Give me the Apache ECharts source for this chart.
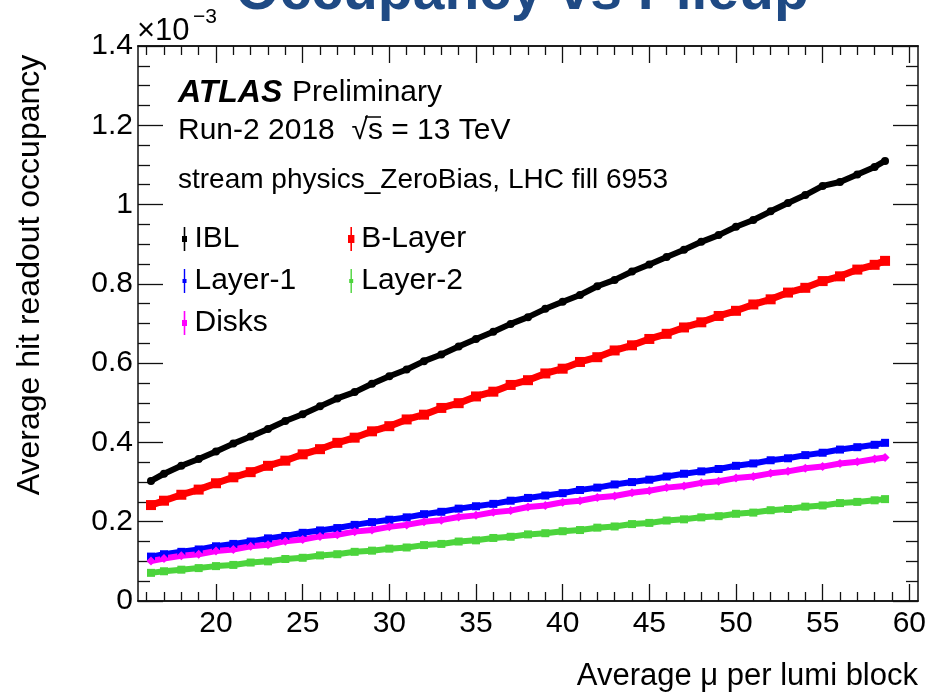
<!DOCTYPE html>
<html>
<head>
<meta charset="utf-8">
<title>Occupancy vs Pileup</title>
<script src="https://cdn.jsdelivr.net/npm/echarts@6/dist/echarts.min.js"></script>
<style>
  html, body { margin: 0; padding: 0; background: #fff; }
  #chart { width: 929px; height: 696px; }
</style>
</head>
<body>
<div id="chart"></div>
<script>
// Average pile-up per lumi block
const mu = [16.25, 17, 18, 19, 20, 21, 22, 23, 24, 25, 26, 27, 28, 29, 30, 31, 32, 33, 34, 35, 36, 37,
  38, 39, 40, 41, 42, 43, 44, 45, 46, 47, 48, 49, 50, 51, 52, 53, 54, 55, 56, 57, 58, 58.6];

// Average hit readout occupancy, in units of 1e-3
const ibl = [0.303, 0.321, 0.341, 0.358, 0.377, 0.397, 0.415, 0.434, 0.454, 0.471, 0.491, 0.511, 0.527, 0.548,
  0.567, 0.584, 0.605, 0.622, 0.642, 0.661, 0.679, 0.699, 0.716, 0.737, 0.755, 0.772, 0.794, 0.810, 0.831, 0.849,
  0.868, 0.886, 0.906, 0.923, 0.944, 0.961, 0.983, 1.004, 1.024, 1.047, 1.057, 1.076, 1.095, 1.110];
const bLayer = [0.242, 0.253, 0.268, 0.281, 0.297, 0.312, 0.325, 0.341, 0.354, 0.370, 0.383, 0.399, 0.412, 0.428,
  0.441, 0.458, 0.470, 0.487, 0.499, 0.516, 0.528, 0.545, 0.557, 0.574, 0.586, 0.603, 0.615, 0.632, 0.645, 0.661,
  0.674, 0.690, 0.703, 0.719, 0.732, 0.748, 0.761, 0.778, 0.790, 0.807, 0.819, 0.836, 0.848, 0.858];
const layer1 = [0.112, 0.118, 0.124, 0.130, 0.138, 0.144, 0.150, 0.158, 0.164, 0.172, 0.178, 0.184, 0.192, 0.199,
  0.205, 0.211, 0.219, 0.225, 0.233, 0.239, 0.245, 0.253, 0.260, 0.266, 0.272, 0.280, 0.286, 0.294, 0.300, 0.306,
  0.314, 0.321, 0.327, 0.333, 0.341, 0.347, 0.355, 0.360, 0.368, 0.374, 0.382, 0.388, 0.394, 0.399];
const layer2 = [0.071, 0.075, 0.079, 0.083, 0.088, 0.091, 0.097, 0.100, 0.106, 0.109, 0.115, 0.118, 0.124, 0.127,
  0.132, 0.135, 0.141, 0.144, 0.150, 0.153, 0.159, 0.162, 0.168, 0.171, 0.176, 0.179, 0.185, 0.188, 0.194, 0.197,
  0.203, 0.206, 0.211, 0.214, 0.220, 0.223, 0.229, 0.232, 0.238, 0.241, 0.247, 0.250, 0.254, 0.257];
const disks = [0.101, 0.107, 0.114, 0.118, 0.126, 0.130, 0.138, 0.142, 0.151, 0.155, 0.163, 0.167, 0.175, 0.179,
  0.187, 0.192, 0.200, 0.204, 0.212, 0.216, 0.224, 0.228, 0.237, 0.241, 0.249, 0.253, 0.261, 0.265, 0.273, 0.278,
  0.286, 0.290, 0.298, 0.302, 0.310, 0.314, 0.322, 0.327, 0.335, 0.339, 0.347, 0.351, 0.358, 0.362];

// Axis ticks
const xMajorTicks = [20, 25, 30, 35, 40, 45, 50, 55, 60];
const xMinorTicks = [16, 17, 18, 19, 21, 22, 23, 24, 26, 27, 28, 29, 31, 32, 33, 34, 36, 37, 38, 39,
  41, 42, 43, 44, 46, 47, 48, 49, 51, 52, 53, 54, 56, 57, 58, 59];

const FONT = '"Liberation Sans", Arial, Helvetica, sans-serif';
const AXIS_COLOR = '#111';

function pairs(ys) { return mu.map((x, i) => [x, ys[i]]); }

function xAxisDef(position, ticks, len, labels) {
  return {
    type: 'value', position: position, min: 15.5, max: 60.5,
    axisLine: { show: true, onZero: false, lineStyle: { color: AXIS_COLOR, width: 1.5 } },
    axisTick: { show: true, inside: true, length: len, customValues: ticks,
      lineStyle: { color: AXIS_COLOR, width: 1.3 } },
    axisLabel: labels ? { show: true, customValues: ticks, fontSize: 30, fontFamily: FONT,
      color: '#000', margin: 8 } : { show: false },
    splitLine: { show: false }
  };
}

function yAxisDef(position, labels) {
  return {
    type: 'value', position: position, min: 0, max: 1.4, interval: 0.2,
    axisLine: { show: true, onZero: false, lineStyle: { color: AXIS_COLOR, width: 1.5 } },
    axisTick: { show: true, inside: true, length: 25, lineStyle: { color: AXIS_COLOR, width: 1.3 } },
    minorTick: { show: true, splitNumber: 4, length: 12, lineStyle: { color: AXIS_COLOR, width: 1.3 } },
    axisLabel: labels ? { show: true, fontSize: 30, fontFamily: FONT, color: '#000', margin: 5 } : { show: false },
    splitLine: { show: false }
  };
}

function seriesDef(name, ys, color, symbol, size, width) {
  return {
    name: name, type: 'line', xAxisIndex: 0, yAxisIndex: 0,
    data: pairs(ys),
    symbol: symbol, symbolSize: size, showSymbol: true,
    lineStyle: { color: color, width: width },
    itemStyle: { color: color, borderWidth: 0 },
    emphasis: { disabled: true },
    silent: true
  };
}

const barIcon = 'path://M4.2,0 H5.8 V24 H4.2 Z M2.5,9 H7.5 V15 H2.5 Z';
const bigIcon = 'path://M4.2,0 H5.8 V24 H4.2 Z M1.8,8 H8.2 V16 H1.8 Z';
const thinIcon = 'path://M4.3,0 H5.7 V24 H4.3 Z M3,10 H7 V14 H3 Z';

const chart = echarts.init(document.getElementById('chart'), null, { renderer: 'canvas' });

chart.setOption({
  animation: false,
  backgroundColor: '#fff',
  textStyle: { fontFamily: FONT },
  grid: { left: 138, top: 46, width: 782, height: 555, containLabel: false },
  xAxis: [
    xAxisDef('bottom', xMajorTicks, 17, true),
    xAxisDef('bottom', xMinorTicks, 9, false),
    xAxisDef('top', xMajorTicks, 17, false),
    xAxisDef('top', xMinorTicks, 9, false)
  ],
  yAxis: [
    yAxisDef('left', true),
    yAxisDef('right', false)
  ],
  legend: [
    {
      orient: 'vertical', left: 177, top: 219, itemWidth: 10, itemHeight: 24, itemGap: 12, itemTextGap: 27,
      selectedMode: false, textStyle: { fontSize: 30, fontFamily: FONT, color: '#000' },
      itemStyle: { borderWidth: 0 },
      data: [
        { name: 'IBL', icon: barIcon },
        { name: 'Layer-1', icon: thinIcon },
        { name: 'Disks', icon: barIcon }
      ]
    },
    {
      orient: 'vertical', left: 343, top: 219, itemWidth: 10, itemHeight: 24, itemGap: 12, itemTextGap: 23,
      selectedMode: false, textStyle: { fontSize: 30, fontFamily: FONT, color: '#000' },
      itemStyle: { borderWidth: 0 },
      data: [
        { name: 'B-Layer', icon: bigIcon },
        { name: 'Layer-2', icon: thinIcon }
      ]
    }
  ],
  series: [
    seriesDef('IBL', ibl, '#000000', 'circle', 8, 6),
    seriesDef('B-Layer', bLayer, '#ff0000', 'rect', 10, 7),
    seriesDef('Layer-1', layer1, '#0000ff', 'rect', 8, 6),
    seriesDef('Layer-2', layer2, '#4cd43c', 'rect', 8, 6),
    seriesDef('Disks', disks, '#ff00ff', 'diamond', 9, 6)
  ],
  graphic: [
    { type: 'text', x: 522, y: -7, style: { text: 'Occupancy vs Pileup', fill: '#1f4a84',
      font: 'bold 57px ' + FONT, align: 'center', verticalAlign: 'middle' } },
    { type: 'text', x: 137, y: 31, style: { text: '×10', fill: '#000',
      font: '31px ' + FONT, align: 'left', verticalAlign: 'middle' } },
    { type: 'text', x: 193, y: 17, style: { text: '−3', fill: '#000',
      font: '21px ' + FONT, align: 'left', verticalAlign: 'middle' } },
    { type: 'text', x: 178, y: 93, style: { text: 'ATLAS', fill: '#000',
      font: 'italic bold 32px ' + FONT, align: 'left', verticalAlign: 'middle' } },
    { type: 'text', x: 292, y: 93, style: { text: 'Preliminary', fill: '#000',
      font: '30px ' + FONT, align: 'left', verticalAlign: 'middle' } },
    { type: 'text', x: 178, y: 131, style: { text: 'Run-2 2018  √s = 13 TeV', fill: '#000',
      font: '30px ' + FONT, align: 'left', verticalAlign: 'middle' } },
    { type: 'line', shape: { x1: 365, y1: 117, x2: 381, y2: 117 },
      style: { stroke: '#000', lineWidth: 1.5 } },
    { type: 'text', x: 178, y: 180, style: { text: 'stream physics_ZeroBias, LHC fill 6953', fill: '#000',
      font: '28px ' + FONT, align: 'left', verticalAlign: 'middle' } },
    { type: 'text', x: 30, y: 275, rotation: Math.PI / 2, style: { text: 'Average hit readout occupancy',
      fill: '#000', font: '32px ' + FONT, align: 'center', verticalAlign: 'middle' } },
    { type: 'text', x: 918, y: 676, style: { text: 'Average μ per lumi block', fill: '#000',
      font: '31px ' + FONT, align: 'right', verticalAlign: 'middle' } }
  ]
});
</script>
</body>
</html>
